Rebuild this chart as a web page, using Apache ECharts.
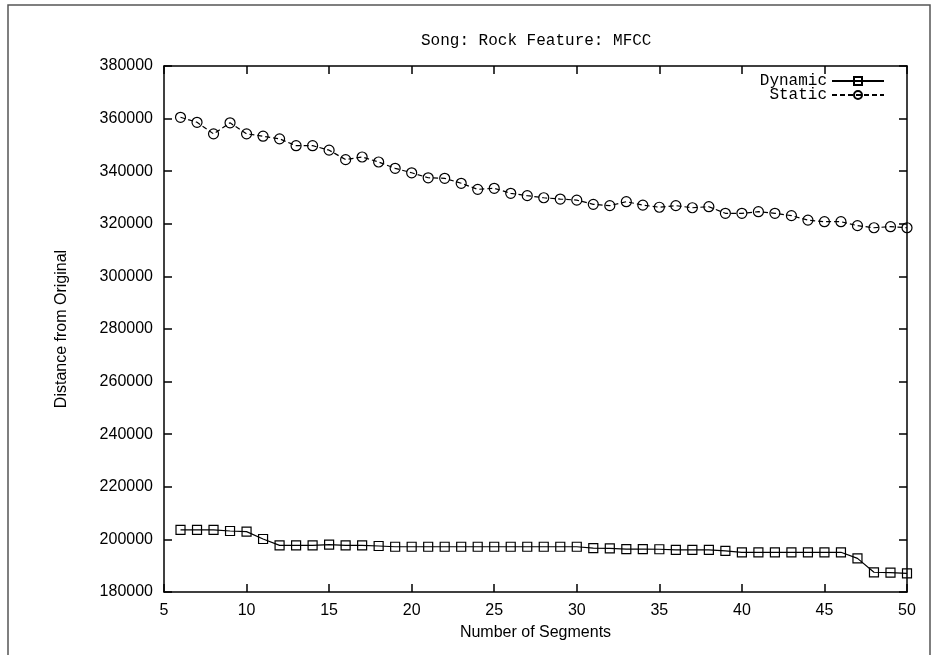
<!DOCTYPE html>
<html>
<head>
<meta charset="utf-8">
<script src="https://cdn.jsdelivr.net/npm/echarts@6/dist/echarts.min.js"></script>
<style>
    html, body { margin: 0; padding: 0; background: #fff; }
    #chart { width: 933px; height: 655px; }
</style>
</head>
<body>
<div id="chart"></div>
<script>
    // number of segments (x)
    const segments = [6, 7, 8, 9, 10, 11, 12, 13, 14, 15, 16, 17, 18, 19, 20, 21, 22, 23, 24, 25,
        26, 27, 28, 29, 30, 31, 32, 33, 34, 35, 36, 37, 38, 39, 40, 41, 42, 43, 44, 45,
        46, 47, 48, 49, 50];

    const dynamicVals = [203600, 203600, 203600, 203200, 202950, 200150, 197750, 197750, 197750, 198000,
        197750, 197750, 197500, 197200, 197200, 197200, 197200, 197200, 197200, 197200,
        197200, 197200, 197200, 197200, 197200, 196700, 196600, 196300, 196300, 196250,
        196000, 196000, 196000, 195600, 195100, 195100, 195100, 195100, 195100, 195100,
        195100, 192800, 187500, 187350, 187100];

    const staticVals = [360500, 358600, 354200, 358400, 354200, 353300, 352300, 349700, 349700, 348000,
        344400, 345400, 343500, 341100, 339400, 337500, 337300, 335400, 333100, 333500,
        331600, 330700, 329900, 329400, 329000, 327400, 326900, 328400, 327100, 326300,
        326900, 326100, 326500, 324000, 324000, 324600, 324000, 323100, 321400, 320800,
        320800, 319300, 318500, 318900, 318500];

    const xTicks = [5, 10, 15, 20, 25, 30, 35, 40, 45, 50];
    const yTicks = [180000, 200000, 220000, 240000, 260000, 280000, 300000, 320000, 340000, 360000, 380000];

    const sans = 'Liberation Sans';
    const mono = 'Liberation Mono';

    let myChart = echarts.init(document.getElementById('chart'), null, { renderer: 'canvas' });

    const axisLine = { show: true, lineStyle: { color: '#000', width: 1.5 } };
    const axisTick = { show: true, inside: true, length: 8, lineStyle: { color: '#000', width: 1.5 } };

    let option = {
        animation: false,
        backgroundColor: '#fff',
        title: {
            text: 'Song: Rock Feature: MFCC',
            left: 421,
            top: 33,
            padding: 0,
            textStyle: { fontFamily: mono, fontSize: 16, fontWeight: 'normal', color: '#000' }
        },
        legend: {
            orient: 'vertical',
            align: 'right',
            right: 48,
            top: 73,
            itemGap: -2,
            itemWidth: 52,
            itemHeight: 10,
            padding: 0,
            textStyle: { fontFamily: mono, fontSize: 16, color: '#000' },
            data: ['Dynamic', 'Static']
        },
        graphic: [{
            type: 'rect',
            shape: { x: 8, y: 5, width: 922, height: 700 },
            style: { fill: 'none', stroke: '#555', lineWidth: 1.5 },
            silent: true
        }],
        grid: { left: 164, right: 26, top: 66, bottom: 63 },
        xAxis: [{
            type: 'value',
            min: xTicks[0],
            max: xTicks[xTicks.length - 1],
            interval: 5,
            name: 'Number of Segments',
            nameLocation: 'middle',
            nameGap: 33,
            nameTextStyle: { fontFamily: sans, fontSize: 16, color: '#000' },
            axisLine: axisLine,
            axisTick: axisTick,
            axisLabel: { fontFamily: sans, fontSize: 16, color: '#000', margin: 11 },
            splitLine: { show: false }
        }, {
            type: 'value',
            position: 'top',
            min: xTicks[0],
            max: xTicks[xTicks.length - 1],
            interval: 5,
            axisLine: axisLine,
            axisTick: axisTick,
            axisLabel: { show: false },
            splitLine: { show: false }
        }],
        yAxis: [{
            type: 'value',
            min: yTicks[0],
            max: yTicks[yTicks.length - 1],
            interval: 20000,
            name: 'Distance from Original',
            nameLocation: 'middle',
            nameGap: 94,
            nameTextStyle: { fontFamily: sans, fontSize: 16, color: '#000' },
            axisLine: axisLine,
            axisTick: axisTick,
            axisLabel: {
                fontFamily: sans, fontSize: 16, color: '#000', margin: 11,
                formatter: function (v) { return String(v); }
            },
            splitLine: { show: false }
        }, {
            type: 'value',
            position: 'right',
            min: yTicks[0],
            max: yTicks[yTicks.length - 1],
            interval: 20000,
            axisLine: axisLine,
            axisTick: axisTick,
            axisLabel: { show: false },
            splitLine: { show: false }
        }],
        series: [
            {
                name: 'Dynamic',
                type: 'line',
                data: segments.map((s, i) => [s, dynamicVals[i]]),
                symbol: 'rect',
                symbolSize: 9,
                itemStyle: { color: 'rgba(0,0,0,0)', borderColor: '#000', borderWidth: 1.2 },
                lineStyle: { color: '#000', width: 1.2, type: 'solid' }
            },
            {
                name: 'Static',
                type: 'line',
                data: segments.map((s, i) => [s, staticVals[i]]),
                symbol: 'circle',
                symbolSize: 10,
                itemStyle: { color: 'rgba(0,0,0,0)', borderColor: '#000', borderWidth: 1.2 },
                lineStyle: { color: '#000', width: 1.2, type: [5, 3] }
            }
        ]
    };

    myChart.setOption(option, true);
</script>
</body>
</html>
